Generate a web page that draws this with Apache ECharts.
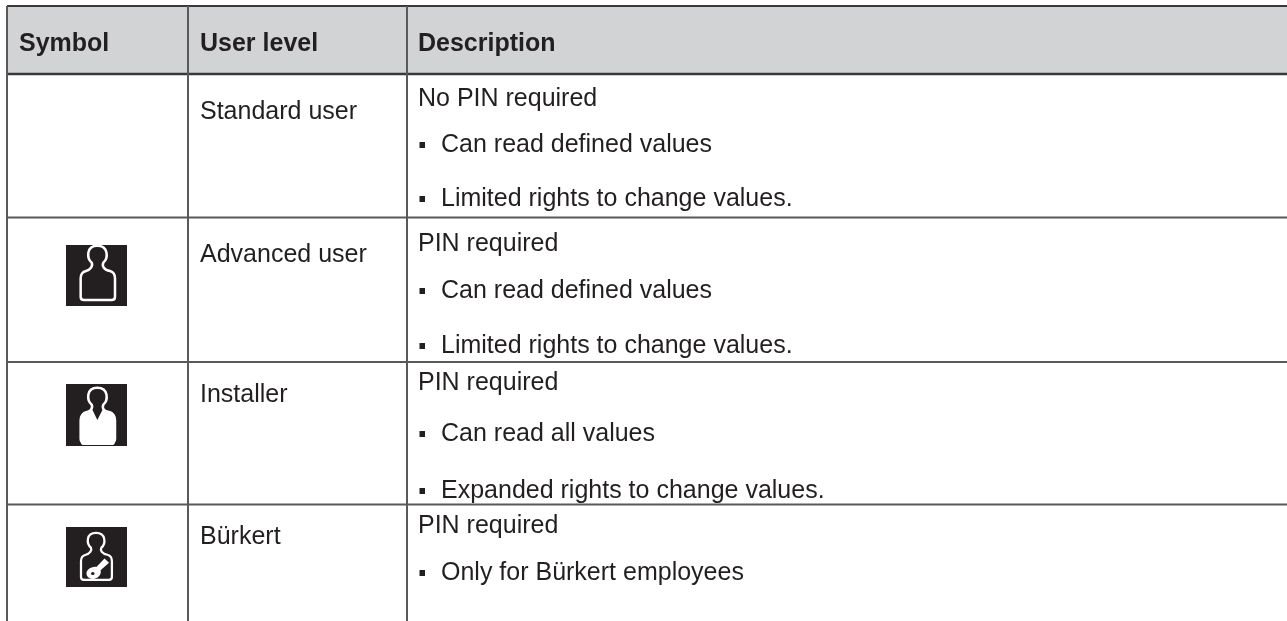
<!DOCTYPE html>
<html><head><meta charset="utf-8">
<style>html,body{margin:0;padding:0;background:#fff}#c{width:1287px;height:621px}</style>
<script src="https://cdn.jsdelivr.net/npm/echarts@6/dist/echarts.min.js"></script>
</head><body><div id="c"></div>
<script>
var columns = ['Symbol', 'User level', 'Description'];
var userLevels = ['Standard user', 'Advanced user', 'Installer', 'Bürkert'];
var pinNotes = ['No PIN required', 'PIN required', 'PIN required', 'PIN required'];
var rights = [
  ['Can read defined values', 'Limited rights to change values.'],
  ['Can read defined values', 'Limited rights to change values.'],
  ['Can read all values', 'Expanded rights to change values.'],
  ['Only for Bürkert employees']
];
var symbols = [null, 'outline', 'filled', 'key'];

var INK = '#231f20', LINE = '#58595b', FONT = '"Liberation Sans", Arial, sans-serif', SIZE = 25;
var colX = [7, 188, 407], textX = [19, 200, 418], bulletTextX = 441, bulletX = 419.5;
var headTop = 6, headBottom = 74, W = 1287, H = 621;
var rowTop = [74, 217.5, 362, 504.5];
var levelY = [112, 255, 395, 537];
var pinY = [99, 244, 383, 526];
var rightsY = [[145, 199], [291, 346], [434, 491], [573]];
// icon layout: square [x, y, w, h]; outline transform [x, y, scaleX, scaleY]
var iconSquare = [null, [66, 245, 61, 61], [66, 384, 61, 62], [66, 527, 61, 60]];
var iconHead = [null, [60, 240, 1 / 3, 1 / 3], [60, 382, 1 / 3, 1 / 3], [62.4, 528, 0.3, 0.288]];

var headPath = 'M95,68 C80,55 78,17 112,17 C146,17 145,55 130,68 C125,78 132,90 150,93 C161,96 165,105 165,115 L165,170 Q165,180 155,180 L72,180 Q62,180 62,170 L62,115 C62,105 66,96 78,93 C90,90 100,78 95,68 Z';
var filledBody = 'M95,85 L112,120 L130,85 C135,90 142,92 150,93 C161,96 165,105 165,115 L165,185 Q165,195 155,195 L72,195 Q62,195 62,185 L62,115 C62,105 66,96 78,93 C85,92 90,90 95,85 Z';
var keyShape = 'M135,94 L150,110 L122,138 C126,152 114,170 96,170 C78,170 68,150 80,136 C90,126 102,124 108,126 Z M90,150 a6,6 0 1,0 12,0 a6,6 0 1,0 -12,0 Z';

var g = [];
function text(t, x, y, bold) {
  g.push({type: 'text', x: x, y: y, z: 5, style: {text: t, fill: INK, font: (bold ? 'bold ' : '') + SIZE + 'px ' + FONT, verticalAlign: 'middle', align: 'left'}});
}
function line(x1, y1, x2, y2, w, c) {
  g.push({type: 'line', z: 3, shape: {x1: x1, y1: y1, x2: x2, y2: y2}, style: {stroke: c || LINE, lineWidth: w || 2}});
}
g.push({type: 'rect', z: 1, shape: {x: colX[0], y: headTop, width: W - colX[0], height: headBottom - headTop}, style: {fill: '#d1d3d4'}});
line(colX[0], headTop, W, headTop, 2, '#3a3839');
line(colX[0], headBottom, W, headBottom, 2.5, '#3a3839');
colX.forEach(function (x) { line(x, headTop, x, H, 2); });
rowTop.slice(1).forEach(function (y) { line(colX[0], y, W, y, 2); });
columns.forEach(function (c, i) { text(c, textX[i], 44, true); });
userLevels.forEach(function (u, i) {
  text(u, textX[1], levelY[i]);
  text(pinNotes[i], textX[2], pinY[i]);
  rights[i].forEach(function (r, j) {
    var y = rightsY[i][j];
    g.push({type: 'rect', z: 5, shape: {x: bulletX, y: y - 3, width: 5.5, height: 6}, style: {fill: INK}});
    text(r, bulletTextX, y);
  });
});

var iconRows = symbols.map(function (s, i) { return s ? i : -1; }).filter(function (i) { return i >= 0; });
function renderIcon(params, api) {
  var i = api.value(0), kind = symbols[i], s = iconSquare[i], h = iconHead[i];
  var kids = [{type: 'rect', shape: {x: s[0], y: s[1], width: s[2], height: s[3]}, style: {fill: INK}}];
  kids.push({type: 'path', x: h[0], y: h[1], scaleX: h[2], scaleY: h[3], shape: {pathData: headPath}, style: {fill: 'transparent', stroke: '#ffffff', lineWidth: 7.5}});
  if (kind === 'filled') kids.push({type: 'path', x: 60, y: 380, scaleX: 1 / 3, scaleY: 1 / 3, shape: {pathData: filledBody}, style: {fill: '#fff'}});
  if (kind === 'key') kids.push({type: 'path', x: 64, y: 533, scaleX: 0.3, scaleY: 0.27, shape: {pathData: keyShape}, style: {fill: '#fff'}});
  return {type: 'group', children: kids};
}
var chart = echarts.init(document.getElementById('c'), null, {renderer: 'canvas'});
chart.setOption({
  animation: false, backgroundColor: '#fff',
  graphic: {elements: g},
  series: [{type: 'custom', coordinateSystem: 'none', silent: true, z: 10, data: iconRows.map(function (i) { return [i]; }), renderItem: renderIcon}]
});
</script></body></html>
